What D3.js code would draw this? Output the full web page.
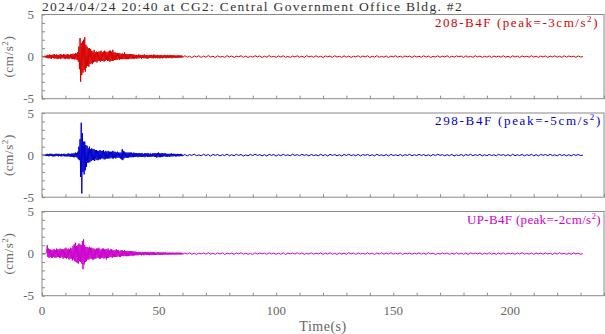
<!DOCTYPE html>
<html><head><meta charset="utf-8">
<script src="https://cdn.jsdelivr.net/npm/d3@7"></script>
<style>
html,body{margin:0;padding:0;background:#fff;}
svg{display:block;font-family:"Liberation Serif","Times New Roman",serif;}
</style></head>
<body><svg id="c" width="605" height="334"></svg>
<script>
// ---- data (cm/s^2): burst part sampled every 0.25 s from 0 to 60 s, tail every 1 s from 61 s ----
const titleText = "2024/04/24 20:40 at CG2: Central Government Office Bldg. #2";
const channelNames = ["208-B4F", "298-B4F", "UP-B4F"];
const channelPeaks = [-3, -5, -2];
const channelColors = ["#d80000", "#0000cc", "#cc00cc"];
const xTickLabels = [0, 50, 100, 150, 200];
const yTickLabels = [-5, 0, 5];

const ch208Burst = [
0,0.05,-0.05,0.05, -0.05,0.1,-0.1,0.1, -0.15,0.2,-0.2,0.15, -0.2,0.25,-0.2,0.2,
-0.25,0.2,-0.15,0.25, -0.2,0.3,-0.25,0.2, -0.2,0.25,-0.3,0.2, -0.25,0.2,-0.2,0.3,
-0.3,0.25,-0.2,0.2, -0.2,0.3,-0.25,0.25, -0.3,0.2,-0.2,0.3, -0.25,0.25,-0.3,0.2,
-0.2,0.3,-0.25,0.3, -0.3,0.35,-0.3,0.3, -0.35,0.4,-0.3,0.35, -0.4,0.5,-0.6,1.2,
-1.5,2.2,-2.98,1.6, -2.2,1.8,-1.9,2.0, -1.6,2.3,-1.8,1.4, -1.3,1.2,-1.1,1.0,
-1.2,1.0,-0.9,0.9, -0.8,0.7,-0.9,0.6, -0.7,0.8,-0.6,0.5, -0.6,0.6,-0.7,0.5,
-0.5,0.6,-0.5,0.6, -0.6,0.7,-0.5,0.5, -0.5,0.6,-0.6,0.7, -0.5,0.6,-0.4,0.5,
-0.5,0.6,-0.5,0.7, -0.6,0.7,-0.5,0.6, -0.5,0.8,-0.5,0.5, -0.4,0.5,-0.4,0.4,
-0.4,0.4,-0.3,0.4, -0.4,0.4,-0.3,0.3, -0.3,0.4,-0.3,0.3, -0.3,0.5,-0.3,0.3,
-0.3,0.3,-0.3,0.3, -0.3,0.3,-0.25,0.3, -0.25,0.3,-0.25,0.25, -0.25,0.25,-0.25,0.2,
-0.2,
0.2,-0.25,0.15,-0.2,0.25,-0.2,0.2,-0.15,
0.2,-0.25,0.2,-0.15,0.2,-0.2,0.25,-0.2,
0.15,-0.2,0.2,-0.25,0.15,-0.2,0.2,-0.15,
0.2,-0.15,0.2,-0.2,0.15,-0.2,0.25,-0.15,
0.2,-0.2,0.15,-0.15,0.2,-0.2,0.15,-0.2,
0.15,-0.2,0.2,-0.15,0.15,-0.2,0.15,-0.15,
0.2,-0.15,0.15,-0.2,0.15,-0.15,0.2,-0.15,
0.15,-0.15,0.2,-0.15,0.15,-0.2,0.15,-0.15,
0.15,-0.12,0.15,-0.15,0.12,-0.15,0.15,-0.12,
0.15,-0.15,0.12,-0.12,0.15,-0.12,0.12,-0.1];
const ch208Tail = [
0.1,-0.08,0.05,-0.12,0.08,-0.03,0.1,-0.1,0.06,-0.08,
0.12,-0.05,0.04,-0.1,0.09,-0.06,0.02,-0.09,0.11,-0.04,
0.07,-0.1,0.05,-0.02,0.1,-0.08,0.06,-0.11,0.04,-0.06,
0.1,-0.03,0.08,-0.1,0.05,-0.07,0.12,-0.06,0.03,-0.09,
0.08,-0.05,0.1,-0.08,0.02,-0.1,0.07,-0.04,0.09,-0.07,
0.05,-0.1,0.11,-0.03,0.06,-0.08,0.1,-0.06,0.04,-0.1,
0.08,-0.02,0.07,-0.09,0.1,-0.05,0.03,-0.08,0.09,-0.07,
0.06,-0.1,0.04,-0.05,0.1,-0.08,0.07,-0.03,0.09,-0.1,
0.05,-0.06,0.11,-0.08,0.03,-0.07,0.08,-0.1,0.06,-0.04,
0.1,-0.07,0.05,-0.09,0.08,-0.03,0.06,-0.1,0.09,-0.05,
0.04,-0.08,0.1,-0.06,0.07,-0.1,0.03,-0.05,0.09,-0.08,
0.06,-0.04,0.1,-0.09,0.05,-0.07,0.08,-0.02,0.07,-0.1,
0.09,-0.06,0.03,-0.08,0.1,-0.05,0.06,-0.09,0.04,-0.07,
0.08,-0.1,0.07,-0.04,0.05,-0.08,0.1,-0.06,0.03,-0.09,
0.09,-0.05,0.06,-0.1,0.08,-0.03,0.04,-0.07,0.1,-0.06,
0.05,-0.09,0.07,-0.04,0.08,-0.1,0.06,-0.05,0.09,-0.07,
0.04,-0.08,0.1,-0.06,0.07,-0.03,0.05,-0.09,0.08,-0.05,
0];

const ch298Burst = [
0,0.05,-0.05,0.05, -0.05,0.05,-0.1,0.1, -0.1,0.15,-0.1,0.1, -0.15,0.15,-0.1,0.15,
-0.1,0.15,-0.15,0.1, -0.15,0.1,-0.15,0.15, -0.1,0.15,-0.1,0.15, -0.15,0.15,-0.1,0.1,
-0.15,0.15,-0.15,0.1, -0.1,0.15,-0.15,0.15, -0.15,0.1,-0.15,0.15, -0.15,0.2,-0.15,0.15,
-0.2,0.15,-0.2,0.2, -0.2,0.2,-0.25,0.2, -0.25,0.3,-0.2,0.25, -0.3,0.4,-0.5,1.0,
-0.6,1.9,-2.6,3.84, -4.56,2.6,-2.0,1.6, -2.3,1.6,-1.8,1.2, -1.4,1.1,-0.9,0.8,
-0.9,1.0,-0.8,0.7, -0.7,0.8,-0.6,0.7, -0.6,0.7,-0.7,0.6, -0.5,0.6,-0.6,0.5,
-0.6,0.5,-0.5,0.6, -0.5,0.5,-0.4,0.5, -0.4,0.6,-0.5,0.4, -0.5,0.5,-0.4,0.4,
-0.4,0.5,-0.4,0.4, -0.4,0.4,-0.3,0.4, -0.4,0.5,-0.4,0.4, -0.3,0.4,-0.4,0.3,
-0.3,0.4,-0.3,0.3, -0.3,0.3,-0.4,0.3, -0.5,0.7,-0.6,0.5, -0.4,0.4,-0.3,0.3,
-0.3,0.3,-0.3,0.3, -0.3,0.3,-0.25,0.3, -0.25,0.3,-0.25,0.25, -0.25,0.3,-0.2,0.25,
-0.2,
0.25,-0.2,0.2,-0.25,0.2,-0.2,0.25,-0.2,
0.2,-0.2,0.25,-0.2,0.15,-0.2,0.2,-0.25,
0.2,-0.15,0.2,-0.2,0.25,-0.2,0.15,-0.2,
0.2,-0.2,0.15,-0.2,0.2,-0.15,0.2,-0.2,
0.25,-0.2,0.2,-0.3,0.25,-0.2,0.3,-0.25,
0.2,-0.25,0.2,-0.2,0.25,-0.2,0.2,-0.15,
0.2,-0.15,0.2,-0.2,0.15,-0.2,0.15,-0.15,
0.15,-0.2,0.15,-0.15,0.2,-0.15,0.15,-0.15,
0.15,-0.12,0.15,-0.15,0.12,-0.15,0.15,-0.12,
0.12,-0.15,0.12,-0.12,0.15,-0.12,0.1,-0.1];
const ch298Tail = [
0.08,-0.1,0.06,-0.04,0.11,-0.07,0.03,-0.09,0.1,-0.05,
0.06,-0.11,0.08,-0.03,0.07,-0.1,0.05,-0.06,0.12,-0.08,
0.04,-0.07,0.1,-0.05,0.08,-0.1,0.02,-0.08,0.09,-0.06,
0.11,-0.04,0.06,-0.09,0.05,-0.1,0.08,-0.03,0.07,-0.11,
0.05,-0.08,0.1,-0.06,0.04,-0.09,0.11,-0.05,0.06,-0.07,
0.09,-0.03,0.05,-0.1,0.08,-0.06,0.03,-0.08,0.1,-0.07,
0.06,-0.1,0.09,-0.04,0.07,-0.08,0.05,-0.11,0.08,-0.05,
0.1,-0.06,0.04,-0.08,0.09,-0.1,0.06,-0.03,0.08,-0.07,
0.05,-0.09,0.1,-0.05,0.03,-0.08,0.07,-0.1,0.09,-0.06,
0.04,-0.07,0.08,-0.1,0.06,-0.04,0.1,-0.08,0.05,-0.06,
0.09,-0.05,0.07,-0.09,0.04,-0.1,0.08,-0.06,0.1,-0.03,
0.06,-0.08,0.05,-0.07,0.09,-0.1,0.03,-0.06,0.08,-0.09,
0.07,-0.04,0.1,-0.08,0.06,-0.05,0.09,-0.1,0.04,-0.07,
0.08,-0.06,0.05,-0.09,0.1,-0.04,0.07,-0.08,0.06,-0.1,
0.1,-0.07,0.04,-0.06,0.08,-0.09,0.05,-0.05,0.09,-0.08,
0.06,-0.1,0.08,-0.03,0.07,-0.07,0.1,-0.06,0.04,-0.09,
0.09,-0.05,0.06,-0.08,0.05,-0.1,0.08,-0.04,0.07,-0.06,
0];

const chUPBurst = [
0,0.02,-0.02,0.02, -0.02,0.02,-0.02,0.05, 0.3,1.0,-0.4,0.6, -0.5,0.5,-0.4,0.5,
-0.5,0.4,-0.5,0.5, -0.4,0.5,-0.5,0.4, -0.5,0.6,-0.4,0.5, -0.4,0.5,-0.5,0.6,
-0.5,0.5,-0.4,0.5, -0.6,0.5,-0.5,0.6, -0.5,0.7,-0.6,0.5, -0.5,0.6,-0.7,0.5,
-0.6,0.7,-0.6,0.6, -0.8,0.9,-0.7,1.1, -0.9,1.3,-1.0,0.9, -1.1,1.0,-1.2,1.2,
-0.9,1.1,-1.0,1.0, -1.2,1.5,-1.85,1.7, -1.3,1.0,-1.0,0.8, -0.9,0.8,-0.7,0.7,
-0.7,0.8,-0.6,0.7, -0.6,0.7,-0.7,0.6, -0.7,0.6,-0.6,0.5, -0.6,0.6,-0.5,0.6,
-0.5,0.7,-0.6,0.5, -0.6,0.5,-0.5,0.6, -0.5,0.6,-0.6,0.5, -0.5,0.5,-0.7,0.5,
-0.5,0.6,-0.5,0.4, -0.4,0.5,-0.4,0.5, -0.5,0.4,-0.4,0.4, -0.4,0.4,-0.4,0.5,
-0.4,0.4,-0.3,0.4, -0.4,0.3,-0.4,0.4, -0.3,0.4,-0.3,0.3, -0.3,0.4,-0.3,0.3,
-0.3,0.3,-0.3,0.3, -0.3,0.3,-0.25,0.3, -0.25,0.3,-0.25,0.25, -0.25,0.25,-0.2,0.25,
-0.2,
0.2,-0.2,0.15,-0.2,0.2,-0.15,0.2,-0.15,
0.15,-0.2,0.2,-0.15,0.15,-0.2,0.15,-0.15,
0.2,-0.15,0.15,-0.15,0.2,-0.15,0.15,-0.2,
0.15,-0.15,0.15,-0.2,0.15,-0.15,0.2,-0.15,
0.15,-0.15,0.12,-0.15,0.15,-0.12,0.15,-0.15,
0.12,-0.15,0.15,-0.12,0.12,-0.15,0.15,-0.12,
0.12,-0.12,0.15,-0.12,0.1,-0.12,0.12,-0.12,
0.12,-0.1,0.12,-0.12,0.1,-0.12,0.12,-0.1,
0.1,-0.12,0.1,-0.1,0.12,-0.1,0.1,-0.1,
0.1,-0.1,0.12,-0.1,0.1,-0.1,0.1,-0.08];
const chUPTail = [
0.07,-0.05,0.09,-0.08,0.04,-0.1,0.06,-0.03,0.08,-0.07,
0.1,-0.06,0.03,-0.08,0.07,-0.05,0.09,-0.1,0.05,-0.04,
0.06,-0.09,0.08,-0.04,0.1,-0.06,0.05,-0.08,0.03,-0.1,
0.09,-0.06,0.07,-0.03,0.05,-0.09,0.1,-0.05,0.06,-0.08,
0.04,-0.07,0.09,-0.1,0.06,-0.04,0.08,-0.06,0.1,-0.05,
0.07,-0.09,0.03,-0.06,0.1,-0.08,0.05,-0.04,0.08,-0.1,
0.06,-0.05,0.09,-0.07,0.04,-0.1,0.07,-0.06,0.05,-0.08,
0.1,-0.04,0.06,-0.09,0.08,-0.05,0.03,-0.07,0.09,-0.06,
0.05,-0.1,0.07,-0.04,0.09,-0.08,0.06,-0.05,0.1,-0.07,
0.04,-0.06,0.08,-0.1,0.05,-0.03,0.07,-0.09,0.06,-0.05,
0.09,-0.07,0.05,-0.08,0.1,-0.04,0.06,-0.1,0.03,-0.06,
0.08,-0.05,0.07,-0.09,0.04,-0.07,0.1,-0.06,0.05,-0.08,
0.06,-0.1,0.09,-0.04,0.07,-0.05,0.08,-0.09,0.05,-0.06,
0.1,-0.07,0.04,-0.08,0.06,-0.06,0.09,-0.1,0.07,-0.04,
0.05,-0.09,0.08,-0.05,0.1,-0.07,0.03,-0.06,0.08,-0.1,
0.07,-0.04,0.06,-0.08,0.09,-0.05,0.05,-0.1,0.07,-0.06,
0.1,-0.05,0.04,-0.09,0.06,-0.07,0.08,-0.04,0.05,-0.08,
0];

const burstStep = 0.25, tailStart = 61, tailStep = 1;
function toPoints(burst, tail) {
  const pts = burst.map((v, i) => [i * burstStep, v]);
  tail.forEach((v, i) => pts.push([tailStart + i * tailStep, v]));
  return pts;
}
const series = [toPoints(ch208Burst, ch208Tail), toPoints(ch298Burst, ch298Tail), toPoints(chUPBurst, chUPTail)];

// ---- layout ----
const svg = d3.select("#c");
const left = 42, right = 604, panelH = 84.2, panelTop0 = 14.5, panelStep = 98.5;
const axisColor = "#8a8a8a", textColor = "#666";
const x = d3.scaleLinear().domain([0, 240]).range([left, right]);

function fitText(sel, target) {
  const n = sel.text().length;
  const w = sel.node().getComputedTextLength();
  sel.attr("letter-spacing", ((target - w) / n).toFixed(3));
}

const title = svg.append("text").attr("x", left).attr("y", 10.5)
  .attr("font-size", 13.5).attr("fill", "#333").text(titleText);
fitText(title, 421);

const legendX = [435, 435, 467], legendW = [164, 167, 134];

series.forEach((pts, k) => {
  const top = panelTop0 + k * panelStep, bot = top + panelH;
  const y = d3.scaleLinear().domain([-5, 5]).range([bot, top]);
  const g = svg.append("g");

  // trace
  g.append("path").datum(pts)
    .attr("d", d3.line().x(d => x(d[0])).y(d => y(d[1])))
    .attr("fill", "none").attr("stroke", channelColors[k]).attr("stroke-width", 1);

  // frame
  g.append("rect").attr("x", left).attr("y", top).attr("width", right - left).attr("height", panelH)
    .attr("fill", "none").attr("stroke", axisColor).attr("stroke-width", 1);

  // y axis (ticks inward)
  const yAx = g.append("g").attr("transform", `translate(${left},0)`)
    .call(d3.axisLeft(y).tickValues(d3.range(-5, 6)).tickSize(-3).tickFormat(""));
  yAx.select(".domain").remove();
  yAx.selectAll("line").attr("stroke", axisColor);
  g.selectAll(".ylab").data(yTickLabels).join("text")
    .attr("x", 34).attr("y", d => y(d)).attr("dy", "0.35em")
    .attr("text-anchor", "end").attr("font-size", 13).attr("fill", textColor)
    .text(d => d);

  // x axis (ticks inward)
  const xAx = g.append("g").attr("transform", `translate(0,${bot})`)
    .call(d3.axisBottom(x).tickValues(d3.range(0, 241, 10)).tickSize(-3).tickFormat(""));
  xAx.select(".domain").remove();
  xAx.selectAll("line").attr("stroke", axisColor);

  // y title
  const yt = g.append("text").attr("transform", `translate(13,${(top + bot) / 2}) rotate(-90)`)
    .attr("text-anchor", "middle").attr("font-size", 13).attr("fill", textColor)
    .attr("letter-spacing", 0.6);
  yt.append("tspan").text("(cm/s");
  yt.append("tspan").attr("dy", -5).attr("font-size", 9).text("2");
  yt.append("tspan").attr("dy", 5).text(")");

  // legend
  const lg = g.append("text").attr("x", legendX[k]).attr("y", top + 12)
    .attr("font-size", 13).attr("fill", channelColors[k]);
  lg.append("tspan").text(`${channelNames[k]} (peak=${channelPeaks[k]}cm/s`);
  lg.append("tspan").attr("dy", -5).attr("font-size", 9).text("2");
  lg.append("tspan").attr("dy", 5).text(")");
  const w = lg.node().getComputedTextLength();
  const n = lg.text().length;
  lg.attr("letter-spacing", ((legendW[k] - w) / n).toFixed(3));

  if (k === 2) {
    svg.selectAll(".xlab").data(xTickLabels).join("text")
      .attr("x", d => x(d)).attr("y", bot + 19.5)
      .attr("text-anchor", "middle").attr("font-size", 13).attr("fill", textColor)
      .text(d => d);
    svg.append("text").attr("x", 323).attr("y", 330.5).attr("text-anchor", "middle")
      .attr("font-size", 14).attr("fill", textColor).attr("letter-spacing", 0.5).text("Time(s)");
  }
});
</script></body></html>
